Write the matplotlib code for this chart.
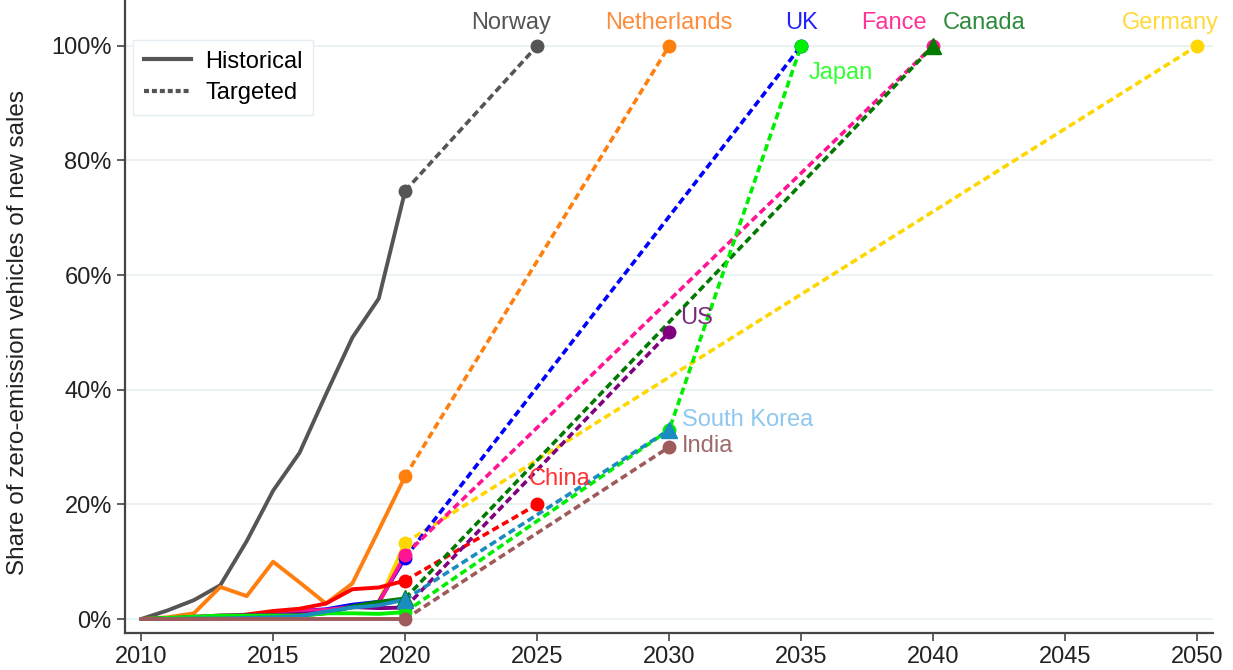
import matplotlib
matplotlib.use("Agg")
import matplotlib.pyplot as plt
from matplotlib.lines import Line2D
from matplotlib.ticker import FuncFormatter

plt.rcParams['font.family'] = ['Liberation Sans', 'DejaVu Sans']

# historical shares 2010-2020 (%)
years_hist = list(range(2010, 2021))
hist = {
    "Norway":      [0, 1.5, 3.3, 5.9, 13.6, 22.4, 29.0, 39.2, 49.1, 55.9, 74.7],
    "Netherlands": [0, 0.3, 1.0, 5.6, 4.0, 10.0, 6.4, 2.7, 6.2, 15.5, 24.9],
    "Germany":     [0, 0.1, 0.1, 0.2, 0.4, 0.7, 0.7, 1.6, 2.0, 3.0, 13.3],
    "UK":          [0, 0.1, 0.2, 0.4, 0.6, 1.0, 1.4, 1.7, 2.5, 3.0, 10.7],
    "Fance":       [0, 0.1, 0.3, 0.6, 0.7, 1.2, 1.4, 1.6, 2.1, 2.8, 11.2],
    "China":       [0, 0.1, 0.1, 0.2, 0.8, 1.4, 1.8, 2.7, 5.2, 5.5, 6.7],
    "US":          [0, 0.1, 0.4, 0.6, 0.7, 0.7, 0.9, 1.1, 2.1, 1.9, 2.0],
    "Canada":      [0, 0.1, 0.2, 0.3, 0.4, 0.5, 0.6, 1.0, 2.2, 3.0, 3.6],
    "Japan":       [0, 0.2, 0.4, 0.6, 0.6, 0.6, 0.6, 1.0, 1.0, 0.9, 1.2],
    "South Korea": [0, 0.0, 0.1, 0.1, 0.2, 0.3, 0.5, 1.3, 2.0, 2.4, 3.4],
    "India":       [0, 0, 0, 0, 0, 0, 0, 0, 0, 0, 0],
}

# targets after 2020 (year, %)
target_years = {
    "Norway": [2025], "Netherlands": [2030], "Germany": [2050], "UK": [2035],
    "Fance": [2040], "China": [2025], "US": [2030], "Canada": [2040],
    "Japan": [2030, 2035], "South Korea": [2030], "India": [2030],
}
target_vals = {
    "Norway": [100], "Netherlands": [100], "Germany": [100], "UK": [100],
    "Fance": [100], "China": [20], "US": [50], "Canada": [100],
    "Japan": [33, 100], "South Korea": [33], "India": [30],
}

colors = {
    "Norway": "#555555", "Netherlands": "#ff7f0e", "Germany": "#ffd700",
    "UK": "#0000ff", "Fance": "#ff1493", "China": "#ff0000", "US": "#800080",
    "Canada": "#007a00", "Japan": "#00ee00", "South Korea": "#1a8cc0",
    "India": "#9e5b5b",
}
label_colors = {
    "Norway": "#555555", "Netherlands": "#ff8c3a", "Germany": "#ffd93a",
    "UK": "#2222ff", "Fance": "#ff3399", "China": "#ff3333", "US": "#7a2a7a",
    "Canada": "#2e8b3e", "Japan": "#33ff33", "South Korea": "#8ec8ee",
    "India": "#a06a6a",
}
markers = {k: "o" for k in hist}
markers["Canada"] = "^"
markers["South Korea"] = "^"

# label positions (year, %, ha)
label_pos = {
    "Norway": (2024.0, 104.0, "center"), "Netherlands": (2030, 104.0, "center"),
    "UK": (2035, 104.0, "center"), "Fance": (2038.5, 104.0, "center"),
    "Canada": (2040.35, 104.0, "left"), "Germany": (2049.0, 104.0, "center"),
    "Japan": (2035.3, 95.3, "left"), "US": (2030.4, 52.6, "left"),
    "South Korea": (2030.5, 34.8, "left"), "India": (2030.5, 30.2, "left"),
    "China": (2024.7, 24.4, "left"),
}

fig = plt.figure(figsize=(12.33, 6.70), dpi=100)
ax = fig.add_axes([0.1014, 0.0552, 0.8824, 0.9448])

for name in hist:
    c = colors[name]
    ax.plot(years_hist, hist[name], color=c, lw=2.8, solid_capstyle="round", zorder=3)
    tx = [2020] + target_years[name]
    ty = [hist[name][-1]] + target_vals[name]
    ax.plot(tx, ty, color=c, lw=2.6, linestyle=(0, (2.0, 1.1)), zorder=3)
    ms = 11 if markers[name] == "^" else 9
    ax.plot(tx, ty, linestyle="none", marker=markers[name], color=c, markersize=ms, zorder=4)
    x, y, ha = label_pos[name]
    ax.text(x, y, name, color=label_colors[name], fontsize=17, ha=ha, va="center", zorder=5)

ax.set_xlim(2009.39, 2050.6)
ax.set_ylim(-2.44, 108)
ax.set_xticks(range(2010, 2051, 5))
ax.set_yticks(range(0, 101, 20))
ax.yaxis.set_major_formatter(FuncFormatter(lambda v, p: f"{v:.0f}%"))
ax.grid(axis="y", color="#e8f0f0", lw=1.2)
ax.set_axisbelow(True)
for s in ["top", "right"]:
    ax.spines[s].set_visible(False)
for s in ["left", "bottom"]:
    ax.spines[s].set_color("#444444")
    ax.spines[s].set_linewidth(1.6)
ax.tick_params(axis="both", direction="out", length=6, width=1.2, color="#444444",
               labelsize=17, labelcolor="#222222")
ax.set_ylabel("Share of zero-emission vehicles of new sales", fontsize=17.5, color="#222222")
ax.yaxis.set_label_coords(-0.088, 0.475)

handles = [Line2D([], [], color="#555555", lw=3),
           Line2D([], [], color="#555555", lw=3, linestyle=(0, (1.2, 0.7)))]
leg = ax.legend(handles, ["Historical", "Targeted"], loc="upper left", fontsize=17,
                fancybox=False, framealpha=1, edgecolor="#e4eef2",
                bbox_to_anchor=(0.0074, 0.937), borderaxespad=0, handlelength=2.0,
                handletextpad=0.6, borderpad=0.45, labelspacing=0.4)

fig.savefig("out.png", dpi=100)
